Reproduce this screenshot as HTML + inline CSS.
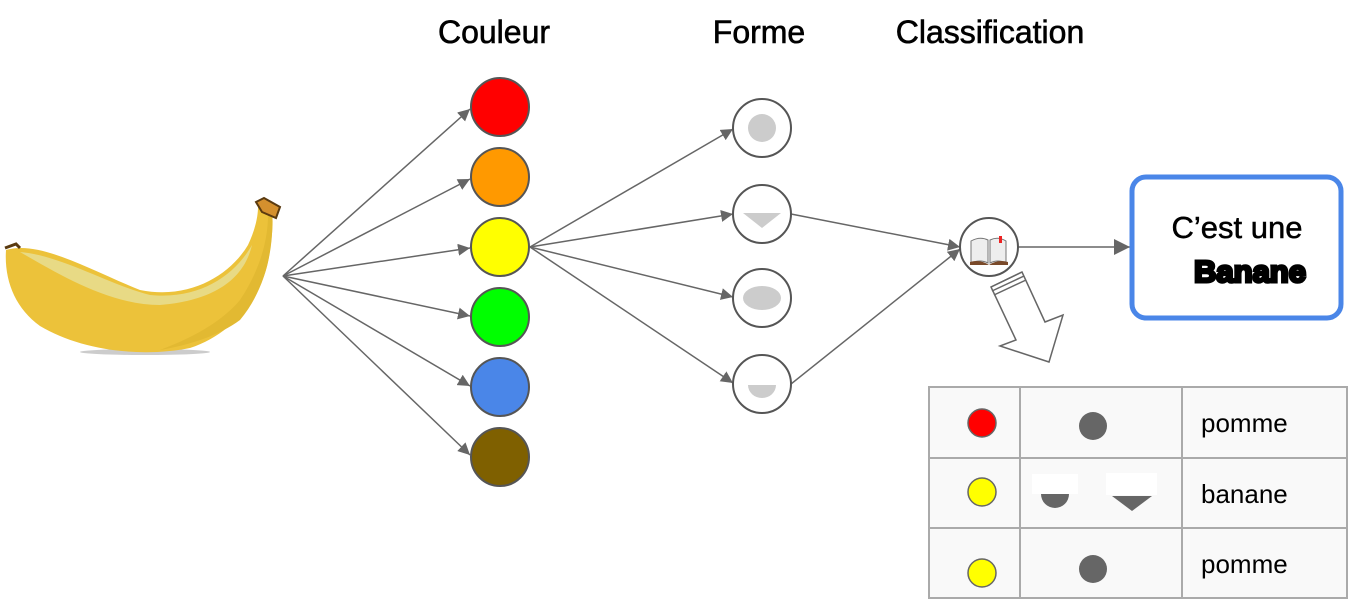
<!DOCTYPE html>
<html><head><meta charset="utf-8"><style>
html,body{margin:0;padding:0;background:#fff;width:1353px;height:603px;overflow:hidden}
svg{display:block}
</style></head><body>
<svg width="1353" height="603" viewBox="0 0 1353 603" xmlns="http://www.w3.org/2000/svg">
<defs>
<marker id="a" viewBox="0 0 10 10" refX="10" refY="5" markerWidth="12" markerHeight="12" markerUnits="userSpaceOnUse" orient="auto"><path d="M0,0 L10,5 L0,10 z" fill="#666"/></marker>
<marker id="b" viewBox="0 0 10 10" refX="10" refY="5" markerWidth="16" markerHeight="16" markerUnits="userSpaceOnUse" orient="auto"><path d="M0,0 L10,5 L0,10 z" fill="#666"/></marker>
</defs>
<g font-family="'Liberation Sans', sans-serif" font-size="32" fill="#000" text-anchor="middle" stroke="#000" stroke-width="0.6">
<text x="494" y="43">Couleur</text>
<text x="759" y="43">Forme</text>
<text x="990" y="43">Classification</text>
</g>
<!-- banana -->
<ellipse cx="145" cy="352" rx="65" ry="3" fill="#ccc"/>
<path d="M6,250 C40,240 90,270 140,290 C190,300 230,275 248,245 C256,228 258,215 258,207 L270,206 C275,215 272,240 268,262 C260,300 230,335 190,348 C140,358 80,350 40,326 C15,308 4,280 6,250 z" fill="#ecc23a"/>
<path d="M20,252 C60,255 110,285 150,295 C200,300 235,275 252,245 C245,275 220,300 160,305 C110,305 60,275 20,252 z" fill="#e8da85"/>
<path d="M240,300 C260,270 268,240 268,215 L272,215 C274,250 265,290 240,320 C220,335 190,345 160,350 C200,335 225,318 240,300z" fill="#e2b932"/>
<path d="M256,202 L264,198 L280,207 L276,218 L262,212 z" fill="#d4902e" stroke="#5a3a10" stroke-width="2"/>
<path d="M5,248 L16,244 L20,248" stroke="#5a3a10" stroke-width="3" fill="none"/>
<g stroke="#666" stroke-width="1.5" fill="none" marker-end="url(#a)">
<line x1="283" y1="276" x2="470" y2="109"/>
<line x1="283" y1="276" x2="470" y2="179"/>
<line x1="283" y1="276" x2="470" y2="248"/>
<line x1="283" y1="276" x2="470" y2="316"/>
<line x1="283" y1="276" x2="470" y2="386"/>
<line x1="283" y1="276" x2="470" y2="455"/>
<line x1="530" y1="247" x2="733" y2="129"/>
<line x1="530" y1="247" x2="733" y2="214"/>
<line x1="530" y1="247" x2="733" y2="297"/>
<line x1="530" y1="247" x2="733" y2="383"/>
<line x1="791" y1="214" x2="960" y2="247"/>
<line x1="791" y1="384" x2="960" y2="249"/>
</g>
<line x1="1018" y1="247" x2="1130" y2="247" stroke="#666" stroke-width="1.5" marker-end="url(#b)"/>
<g stroke="#555" stroke-width="2">
<circle cx="500" cy="107" r="29" fill="#ff0000"/>
<circle cx="500" cy="177" r="29" fill="#ff9900"/>
<circle cx="500" cy="247" r="29" fill="#ffff00"/>
<circle cx="500" cy="317" r="29" fill="#00ff00"/>
<circle cx="500" cy="387" r="29" fill="#4a86e8"/>
<circle cx="500" cy="457" r="29" fill="#7f6000"/>
<circle cx="762" cy="128" r="29" fill="#fff"/>
<circle cx="762" cy="214" r="29" fill="#fff"/>
<circle cx="762" cy="298" r="29" fill="#fff"/>
<circle cx="762" cy="384" r="29" fill="#fff"/>
<circle cx="989" cy="247" r="29" fill="#fff"/>
</g>
<circle cx="762" cy="128" r="14" fill="#ccc"/>
<path d="M743,213 L781,213 L762,228 z" fill="#ccc"/>
<ellipse cx="762" cy="298" rx="19" ry="12" fill="#ccc"/>
<path d="M748,385 L776,385 A14,13 0 0 1 748,385 z" fill="#ccc"/>
<path d="M971,241 Q980,236 988,240 L988,263 Q980,259 971,263 z" fill="#eee" stroke="#777" stroke-width="1"/>
<path d="M990,240 Q998,236 1006,241 L1006,263 Q998,259 990,263 z" fill="#eee" stroke="#777" stroke-width="1"/>
<path d="M970,262 Q980,259 989,265 Q998,259 1008,262 L1008,265 L970,265z" fill="#7a4a2a"/>
<rect x="999" y="236" width="3" height="7" fill="#e22"/>
<path d="M991,287 L1022,272 L1045,322 L1063,315 L1049,362 L1000,346 L1016,340 z" fill="#fff" stroke="#666" stroke-width="1.5"/>
<path d="M991,287 L1022,272 M992,291 L1024,276 M994,295 L1026,280" stroke="#666" stroke-width="1.5"/>
<rect x="1132" y="177" width="209" height="141" rx="14" fill="#fff" stroke="#4a86e8" stroke-width="5"/>
<text x="1237" y="238" font-family="'Liberation Sans', sans-serif" font-size="31" text-anchor="middle" stroke="#000" stroke-width="0.5">C’est une</text>
<text x="1250" y="282" font-family="'Liberation Sans', sans-serif" font-size="31" font-weight="bold" text-anchor="middle" stroke="#000" stroke-width="3">Banane</text>
<rect x="929" y="387" width="418" height="211" fill="#f9f9f9" stroke="#aaa" stroke-width="2"/>
<g stroke="#aaa" stroke-width="2">
<line x1="929" y1="458" x2="1347" y2="458"/>
<line x1="929" y1="528" x2="1347" y2="528"/>
<line x1="1020" y1="387" x2="1020" y2="598"/>
<line x1="1182" y1="387" x2="1182" y2="598"/>
</g>
<g stroke="#666" stroke-width="1.5">
<circle cx="982" cy="423" r="14" fill="#ff0000"/>
<circle cx="982" cy="492" r="14" fill="#ffff00"/>
<circle cx="982" cy="573" r="14" fill="#ffff00"/>
</g>
<circle cx="1093" cy="426" r="14" fill="#666"/>
<circle cx="1093" cy="569" r="14" fill="#666"/>
<rect x="1032" y="474" width="46" height="20" fill="#fff"/>
<rect x="1106" y="473" width="51" height="22" fill="#fff"/>
<path d="M1041,494 L1069,494 A14,14 0 0 1 1041,494 z" fill="#666"/>
<path d="M1112,496 L1152,496 L1132,511 z" fill="#666"/>
<g font-family="'Liberation Sans', sans-serif" font-size="26" fill="#000">
<text x="1201" y="432">pomme</text>
<text x="1201" y="503">banane</text>
<text x="1201" y="573">pomme</text>
</g>
</svg>
</body></html>
